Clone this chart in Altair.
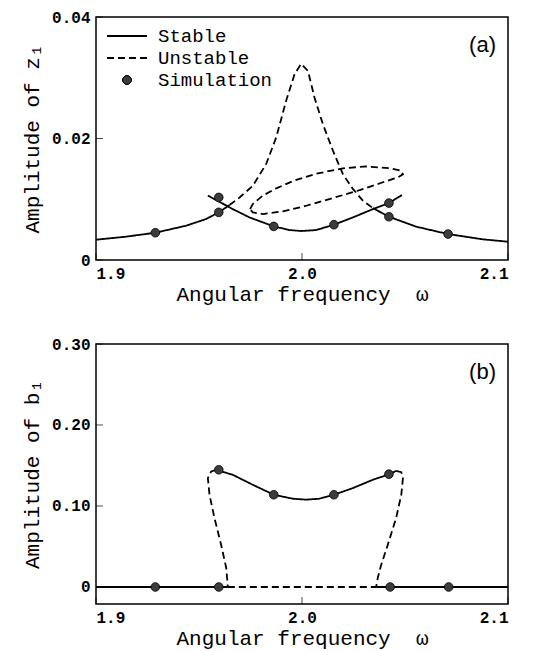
import altair as alt
import pandas as pd

# ---------------- Panel (a): amplitude of z1 ----------------
a_left_x = [1.900, 1.9146, 1.9288, 1.9437, 1.9534, 1.9596, 1.9648]
a_left_y = [0.00334, 0.00384, 0.00449, 0.00564, 0.00674, 0.00784, 0.00904]

a_peak_x = [1.9648, 1.9697, 1.9761, 1.9826, 1.9875, 1.9923, 1.9964, 1.9996, 2.0029,
            2.0061, 2.0101, 2.0150, 2.0199, 2.0247, 2.0296, 2.0344]
a_peak_y = [0.00904, 0.0103, 0.0122, 0.0158, 0.0202, 0.0262, 0.0306, 0.0323, 0.0311,
            0.0267, 0.0224, 0.0180, 0.0141, 0.0117, 0.00975, 0.00855]

a_right_x = [2.0344, 2.0422, 2.0555, 2.0709, 2.0879, 2.100]
a_right_y = [0.00855, 0.00712, 0.00548, 0.00427, 0.00340, 0.00301]

a_hump_x = [1.9543, 1.9596, 1.9664, 1.9745, 1.9863, 1.9940, 1.9996, 2.0069, 2.0155,
            2.0247, 2.0344, 2.0422, 2.0485]
a_hump_y = [0.0106, 0.00964, 0.00838, 0.00701, 0.00553, 0.00493, 0.00477, 0.00493,
            0.00581, 0.00701, 0.00838, 0.00937, 0.0107]

a_loop_x = [1.9748, 1.9761, 1.9810, 1.9875, 1.9956, 2.0069, 2.0199, 2.0312, 2.0426,
            2.0482, 2.0490, 2.0466, 2.0393, 2.0280, 2.0150, 2.0021, 1.9907, 1.9810,
            1.9761, 1.9748]
a_loop_y = [0.00838, 0.00921, 0.0106, 0.0118, 0.0130, 0.0142, 0.0151, 0.0154, 0.0151,
            0.0147, 0.0141, 0.0136, 0.0128, 0.0115, 0.0102, 0.00893, 0.00800, 0.00756,
            0.00784, 0.00838]

a_sim_x = [1.9288, 1.9596, 1.9596, 1.9863, 2.0155, 2.0422, 2.0422, 2.0709]
a_sim_y = [0.00449, 0.0103, 0.00784, 0.00553, 0.00581, 0.00937, 0.00712, 0.00427]

# ---------------- Panel (b): amplitude of b1 ----------------
b_zero_l_x = [1.900, 1.9640]
b_zero_l_y = [0.0, 0.0]
b_zero_m_x = [1.9640, 2.0360]
b_zero_m_y = [0.0, 0.0]
b_zero_r_x = [2.0360, 2.100]
b_zero_r_y = [0.0, 0.0]

b_hump_x = [1.9583, 1.9664, 1.9761, 1.9863, 1.9955, 2.0020, 2.0085, 2.0155, 2.0247,
            2.0344, 2.0425, 2.0457]
b_hump_y = [0.1447, 0.1385, 0.1262, 0.1139, 0.1090, 0.1078, 0.1090, 0.1139, 0.1221,
            0.1324, 0.1393, 0.1434]

b_dl_x = [1.9583, 1.9559, 1.9543, 1.9551, 1.9575, 1.9607, 1.9632, 1.9640]
b_dl_y = [0.1447, 0.1426, 0.1344, 0.1139, 0.0852, 0.0525, 0.0238, 0.0]

b_dr_x = [2.0457, 2.0482, 2.0490, 2.0482, 2.0457, 2.0417, 2.0385, 2.0368, 2.0360]
b_dr_y = [0.1434, 0.1418, 0.1344, 0.1139, 0.0852, 0.0525, 0.0279, 0.0115, 0.0]

b_sim_x = [1.9288, 1.9596, 2.0428, 2.0712, 1.9596, 1.9863, 2.0155, 2.0422]
b_sim_y = [0.0, 0.0, 0.0, 0.0, 0.1447, 0.1139, 0.1139, 0.1393]

legend_labels = ["Stable", "Unstable", "Simulation"]

x_ticks = [1.9, 2.0, 2.1]
a_y_ticks = [0.0, 0.02, 0.04]
b_y_ticks = [0.0, 0.10, 0.20, 0.30]

FONT = "Liberation Mono"
W, H_A, H_B = 412, 243, 260


def segs(parts):
    rows = []
    for sid, (xs, ys, kind) in enumerate(parts):
        for i, (x, y) in enumerate(zip(xs, ys)):
            rows.append({"x": x, "y": y, "seg": sid, "kind": kind, "i": i})
    return pd.DataFrame(rows)


a_lines = segs([
    (a_left_x, a_left_y, "Stable"),
    (a_peak_x, a_peak_y, "Unstable"),
    (a_right_x, a_right_y, "Stable"),
    (a_hump_x, a_hump_y, "Stable"),
    (a_loop_x, a_loop_y, "Unstable"),
])
b_lines = segs([
    (b_zero_l_x, b_zero_l_y, "Stable"),
    (b_zero_m_x, b_zero_m_y, "Unstable"),
    (b_zero_r_x, b_zero_r_y, "Stable"),
    (b_hump_x, b_hump_y, "Stable"),
    (b_dl_x, b_dl_y, "Unstable"),
    (b_dr_x, b_dr_y, "Unstable"),
])
a_sim = pd.DataFrame({"x": a_sim_x, "y": a_sim_y})
b_sim = pd.DataFrame({"x": b_sim_x, "y": b_sim_y})
xt = pd.DataFrame({"v": x_ticks})
legend_df = pd.DataFrame({"label": legend_labels, "row": list(range(len(legend_labels)))})

XTITLE = "Angular frequency\u00a0\u00a0ω"


def panel(lines, sim, ydom, yticks, ytitle, H, tag, with_legend):
    xscale = alt.Scale(domain=[1.9, 2.1], nice=False, zero=False)
    yscale = alt.Scale(domain=ydom, nice=False, zero=False)
    xaxis = alt.Axis(values=x_ticks, format=".1f", title=XTITLE,
                     domain=False, ticks=False, grid=False, labelPadding=5,
                     titlePadding=2)
    yaxis = alt.Axis(values=yticks, labelExpr="datum.value == 0 ? '0' : format(datum.value, '.2f')",
                     title=ytitle, domain=False, ticks=False, grid=False,
                     labelPadding=6, titlePadding=9)
    X = alt.X("x:Q", scale=xscale, axis=xaxis)
    Y = alt.Y("y:Q", scale=yscale, axis=yaxis)

    line = alt.Chart(lines).mark_line(color="black", strokeWidth=1.8, clip=True).encode(
        x=X, y=Y, detail="seg:N", order="i:Q",
        strokeDash=alt.StrokeDash("kind:N", legend=None,
                                  scale=alt.Scale(domain=["Stable", "Unstable"],
                                                  range=[[1, 0], [7, 4]])))
    pts = alt.Chart(sim).mark_point(filled=True, fill="#3c3c3c", stroke="black",
                                    strokeWidth=0.8, size=75, opacity=1).encode(
        x=alt.X("x:Q", scale=xscale), y=alt.Y("y:Q", scale=yscale))

    xtick = alt.Chart(xt).mark_tick(color="black", thickness=1, size=7).encode(
        x=alt.X("v:Q", scale=xscale), y=alt.value(H - 3.5))
    ytick = alt.Chart(pd.DataFrame({"v": yticks})).mark_tick(
        color="black", thickness=1, size=7, orient="horizontal").encode(
        y=alt.Y("v:Q", scale=yscale), x=alt.value(3.5))

    tag_txt = alt.Chart(pd.DataFrame({"t": [tag]})).mark_text(
        font="Liberation Sans", fontSize=22, align="right", baseline="middle",
        color="black").encode(text="t:N", x=alt.value(400), y=alt.value(28))

    layers = [line, pts, xtick, ytick, tag_txt]
    if with_legend:
        ltxt = alt.Chart(legend_df).transform_calculate(
            py="19 + 22 * datum.row").mark_text(
            font=FONT, fontSize=19, align="left", baseline="middle", color="black").encode(
            text="label:N", x=alt.value(62), y=alt.Y("py:Q", scale=None))
        l1 = alt.Chart(legend_df).mark_rule(color="black", strokeWidth=1.8).encode(
            x=alt.value(11), x2=alt.value(51), y=alt.value(19))
        l2 = alt.Chart(legend_df).mark_rule(color="black", strokeWidth=1.8,
                                            strokeDash=[7, 4]).encode(
            x=alt.value(11), x2=alt.value(51), y=alt.value(41))
        l3 = alt.Chart(legend_df).mark_point(filled=True, fill="#3c3c3c", stroke="black",
                                             strokeWidth=0.8, size=75, opacity=1).encode(
            x=alt.value(31), y=alt.value(63))
        layers += [ltxt, l1, l2, l3]
    return alt.layer(*layers).properties(width=W, height=H)


pa = panel(a_lines, a_sim, [0, 0.04], a_y_ticks, "Amplitude of z₁", H_A, "(a)", True)
pb = panel(b_lines, b_sim, [-0.021, 0.30], b_y_ticks, "Amplitude of b₁", H_B, "(b)", False)

chart = alt.vconcat(pa, pb, spacing=30).configure_view(
    stroke="black", strokeWidth=1.5
).configure_axis(
    labelFont=FONT, labelFontSize=16, labelFontWeight="bold", labelColor="black",
    titleFont=FONT, titleFontSize=21, titleFontWeight="normal", titleColor="black"
).properties(padding={"left": 12, "right": 0, "top": 0, "bottom": 0}, background="white")

chart.save("out.html", embed_options={"renderer": "svg", "actions": False})
